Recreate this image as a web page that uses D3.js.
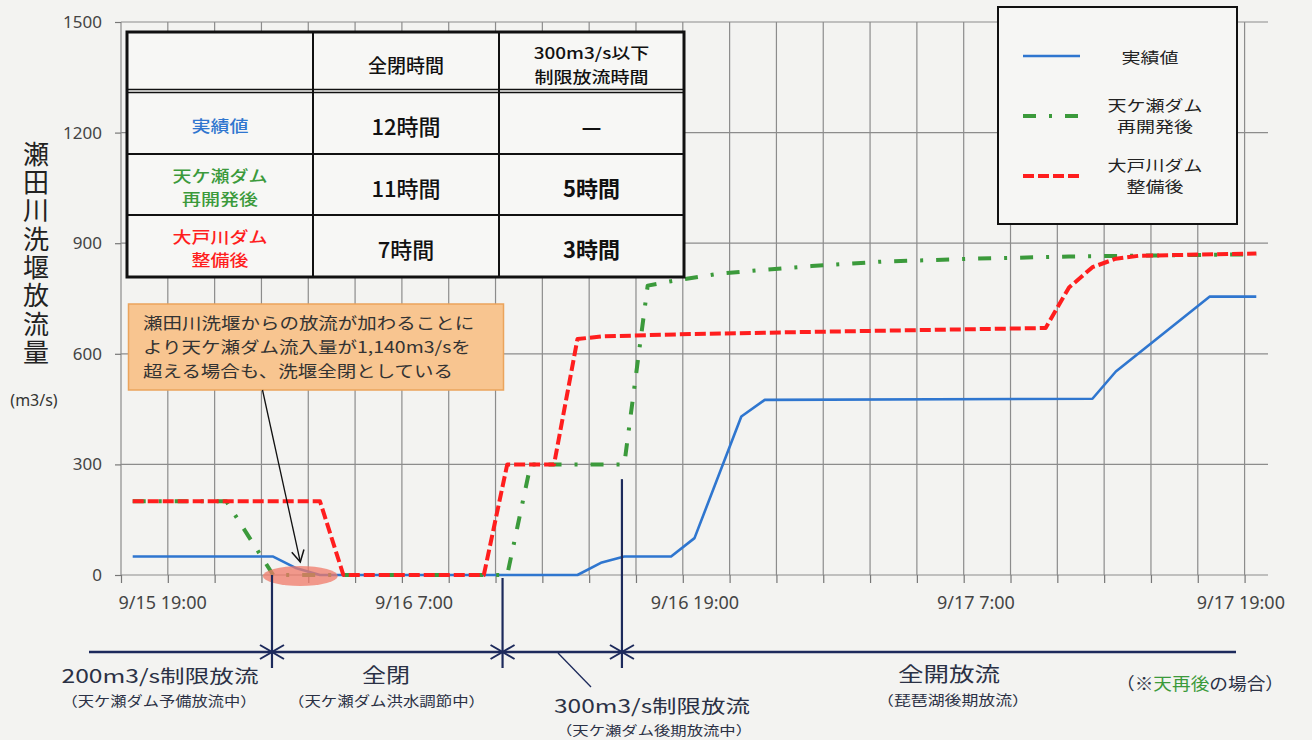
<!DOCTYPE html>
<html><head><meta charset="utf-8">
<script src="https://cdn.jsdelivr.net/npm/d3@7"></script>
<style>
html,body{margin:0;padding:0;background:#f3f3f1;}
svg{display:block;font-family:"Noto Sans CJK JP","Noto Sans",sans-serif;}
</style></head><body>
<svg id="chart" width="1312" height="740"></svg>
<script>
// ---------- data ----------
const xLabels = ["9/15 19:00", "9/16 7:00", "9/16 19:00", "9/17 7:00", "9/17 19:00"];
const xLabelHours = [0, 12, 24, 36, 48];           // hours after 9/15 19:00
const yTicks = [0, 300, 600, 900, 1200, 1500];

const seriesNames = ["実績値", "天ケ瀬ダム\n再開発後", "大戸川ダム\n整備後"];

const actualHours = [0, 6, 7, 8, 19, 20, 21, 23, 24, 26, 27, 41, 42, 46, 48];
const actualFlow  = [50, 50, 18, 0, 0, 33, 50, 50, 100, 430, 475, 478, 552, 755, 755];

const amagaseHours = [0, 4, 6, 16, 17, 21, 22, 23, 25, 27, 29, 32, 36, 40, 48];
const amagaseFlow  = [200, 200, 0, 0, 300, 300, 785, 797, 817, 828, 838, 850, 858, 864, 870];

const daidoHours = [0, 8, 9, 15, 16, 18, 19, 20, 24, 39, 40, 41, 42, 43, 48];
const daidoFlow  = [200, 200, 0, 0, 300, 300, 640, 647, 654, 670, 780, 835, 858, 866, 872];

const tableHeader1 = "全閉時間";
const tableHeader2 = "300m3/s以下\n制限放流時間";
const closedTimes = ["12時間", "11時間", "7時間"];
const limitedTimes = ["—", "5時間", "3時間"];

const phaseBounds = [5.95, 15.8, 20.9];
const phaseLabels = ["200m3/s制限放流", "全閉", "300m3/s制限放流", "全開放流"];
const phaseSubLabels = ["（天ケ瀬ダム予備放流中）", "（天ケ瀬ダム洪水調節中）", "（天ケ瀬ダム後期放流中）", "（琵琶湖後期放流）"];

const noteText = "瀬田川洗堰からの放流が加わることに\nより天ケ瀬ダム流入量が1,140m3/sを\n超える場合も、洗堰全閉としている";
const yTitle = "瀬田川洗堰放流量";
const yUnit = "(m3/s)";

// ---------- styles ----------
const colors = ["#2f76cf", "#3b9a3b", "#ff1e1e"];
const dashes = [null, "13,13,3,13", "11,4"];
const widths = [2.6, 4, 4];
const navy = "#1d2a5c";

const svg = d3.select("#chart");
const x = d3.scaleLinear().domain([-0.5, 48.5]).range([121, 1268]);
const y = d3.scaleLinear().domain([0, 1500]).range([575, 22]);

// ---------- grid ----------
const grid = svg.append("g");
const vgrid = d3.range(-0.5, 48, 2);
grid.selectAll("line.v").data(vgrid).join("line")
  .attr("x1", d => x(d)).attr("x2", d => x(d))
  .attr("y1", y(1500)).attr("y2", y(0))
  .attr("stroke", "#8c8c8c").attr("stroke-width", 1.2);
grid.selectAll("line.h").data(yTicks).join("line")
  .attr("x1", x(-0.5)).attr("x2", x(48.5))
  .attr("y1", d => y(d)).attr("y2", d => y(d))
  .attr("stroke", "#8c8c8c").attr("stroke-width", 1.2);

// x ticks
const xTickAxis = d3.axisBottom(x).tickValues(vgrid).tickFormat("").tickSize(8).tickSizeOuter(0);
const gxt = svg.append("g").attr("transform", `translate(0,${y(0)})`).call(xTickAxis);
gxt.select(".domain").remove();
gxt.selectAll(".tick line").attr("stroke", "#777").attr("stroke-width", 1.2);

// x labels
const xLabelAxis = d3.axisBottom(x).tickValues(xLabelHours)
  .tickFormat((d, i) => xLabels[i]).tickSize(0).tickPadding(0);
const gxl = svg.append("g").attr("transform", `translate(0,${y(0)})`).call(xLabelAxis);
gxl.select(".domain").remove();
gxl.selectAll(".tick text")
  .attr("font-family", "'Noto Sans', sans-serif").attr("font-size", 18).attr("fill", "#444")
  .attr("y", 28).attr("dy", "0.32em")
  .attr("text-anchor", (d, i) => i === 0 ? "start" : "middle")
  .attr("x", (d, i) => i === 0 ? (x(-0.5) - 3 - x(d)) : (i === xLabels.length - 1 ? -16 : 0));

// y axis
const yAxis = d3.axisLeft(y).tickValues(yTicks).tickFormat(d3.format("d"))
  .tickSize(6).tickPadding(13).tickSizeOuter(0);
const gy = svg.append("g").attr("transform", `translate(${x(-0.5)},0)`).call(yAxis);
gy.select(".domain").remove();
gy.selectAll(".tick line").attr("stroke", "#777").attr("stroke-width", 1.2);
gy.selectAll(".tick text").attr("font-family", "'Noto Sans', sans-serif")
  .attr("font-size", 17).attr("fill", "#444");

// y title (vertical writing)
svg.append("text").attr("x", 36).attr("y", 141)
  .style("writing-mode", "vertical-rl").style("letter-spacing", "2.3px")
  .attr("font-size", 26).attr("fill", "#222").text(yTitle);
svg.append("text").attr("x", 34).attr("y", 400).attr("text-anchor", "middle")
  .attr("dominant-baseline", "central").attr("font-family", "'Noto Sans', sans-serif")
  .attr("font-size", 16).attr("fill", "#333").text(yUnit);

// ---------- series ----------
const series = [
  actualHours.map((h, i) => [h, actualFlow[i]]),
  amagaseHours.map((h, i) => [h, amagaseFlow[i]]),
  daidoHours.map((h, i) => [h, daidoFlow[i]])
];
const line = d3.line().x(d => x(d[0])).y(d => y(d[1]));
const gl = svg.append("g");
series.forEach((s, k) => {
  gl.append("path").datum(s).attr("d", line).attr("fill", "none")
    .attr("stroke", colors[k]).attr("stroke-width", widths[k])
    .attr("stroke-dasharray", dashes[k]).attr("stroke-linejoin", "round");
});

// multi-line text helper (single <text>, one tspan per line, optional vertical squash)
function mtext(g, cx, cy, s, size, fill, weight, gap, anchor, sy) {
  sy = sy || 1;
  const ls = s.split("\n");
  const t = g.append("text").attr("text-anchor", anchor || "middle")
    .attr("transform", `translate(${cx},${cy}) scale(1,${sy})`)
    .attr("dominant-baseline", "central").attr("font-size", size).attr("fill", fill)
    .attr("font-weight", weight || 400);
  const y0 = -(ls.length - 1) * gap / 2;
  ls.forEach((l, i) => t.append("tspan").attr("x", 0).attr("y", (y0 + i * gap) / sy).text(l));
  return t;
}

// ---------- table ----------
const tb = svg.append("g");
const tx0 = 127, tx1 = 313, tx2 = 499, tx3 = 684;
const ty0 = 32, tyH1 = 89.5, tyH2 = 92.5, ty1 = 154, ty2 = 215, ty3 = 277;
tb.append("rect").attr("x", tx0).attr("y", ty0).attr("width", tx3 - tx0).attr("height", ty3 - ty0)
  .attr("fill", "#f7f7f5").attr("stroke", "#111").attr("stroke-width", 3);
[[tx1, ty0, tx1, ty3], [tx2, ty0, tx2, ty3]].forEach(l =>
  tb.append("line").attr("x1", l[0]).attr("y1", l[1]).attr("x2", l[2]).attr("y2", l[3])
    .attr("stroke", "#111").attr("stroke-width", 2));
[[tyH1, 1.6], [tyH2, 1.6], [ty1, 2], [ty2, 2]].forEach(l =>
  tb.append("line").attr("x1", tx0).attr("x2", tx3).attr("y1", l[0]).attr("y2", l[0])
    .attr("stroke", "#111").attr("stroke-width", l[1]));
const c1 = (tx0 + tx1) / 2, c2 = (tx1 + tx2) / 2, c3 = (tx2 + tx3) / 2;
mtext(tb, c2, 64, tableHeader1, 19, "#111", 500, 0);
mtext(tb, c3, 64, tableHeader2, 19, "#111", 500, 24, "middle", 0.82);
const rowCenters = [125, 187, 248];
seriesNames.forEach((s, r) => {
  mtext(tb, c1, rowCenters[r] - 0.5, s, 19, colors[r], 500, 23.5, "middle", 0.82);
  mtext(tb, c2, rowCenters[r], closedTimes[r], 22, "#111", 500, 0);
  mtext(tb, c3, rowCenters[r], limitedTimes[r], 22, "#111", 700, 0);
});

// ---------- legend ----------
const lg = svg.append("g");
lg.append("rect").attr("x", 998).attr("y", 7).attr("width", 239).attr("height", 217)
  .attr("fill", "#f6f6f4").attr("stroke", "#111").attr("stroke-width", 2);
const legY = [56, 116, 176];
seriesNames.forEach((s, k) => {
  lg.append("line").attr("x1", 1023).attr("x2", 1080).attr("y1", legY[k]).attr("y2", legY[k])
    .attr("stroke", colors[k]).attr("stroke-width", widths[k]).attr("stroke-dasharray", dashes[k]);
  mtext(lg, k === 0 ? 1150 : 1155, k === 0 ? legY[k] : legY[k] - 1.5, s, 19, "#222", 400, 21.5, "middle", 0.78);
});

// ---------- note box ----------
const nb = svg.append("g");
nb.append("rect").attr("x", 128.5).attr("y", 304).attr("width", 375).attr("height", 86)
  .attr("fill", "#f8c590").attr("stroke", "#eba45c").attr("stroke-width", 1.5);
mtext(nb, 143, 346, noteText, 19.5, "#333", 400, 24, "start", 0.83);

// highlight ellipse + arrow
svg.append("ellipse").attr("cx", x(7.16)).attr("cy", y(0) + 1).attr("rx", 37.5).attr("ry", 10)
  .attr("fill", "#f07a68").attr("opacity", 0.75);
const ax1 = 262.5, ay1 = 390, ax2 = x(7.16), ay2 = y(0) - 13;
svg.append("line").attr("x1", ax1).attr("y1", ay1).attr("x2", ax2).attr("y2", ay2)
  .attr("stroke", "#111").attr("stroke-width", 1.3);
{
  const ang = Math.atan2(ay2 - ay1, ax2 - ax1), L = 13, w = 0.5;
  const p = a => [ax2 - L * Math.cos(a), ay2 - L * Math.sin(a)];
  const a1 = p(ang - w), a2 = p(ang + w);
  svg.append("path").attr("d", `M${a1}L${ax2},${ay2}L${a2}`).attr("fill", "none")
    .attr("stroke", "#111").attr("stroke-width", 1.5);
}

// ---------- phase annotations ----------
const pg = svg.append("g");
const lineY = 652;
const tops = [y(0), y(0) + 3, y(260)];
phaseBounds.forEach((b, i) => {
  pg.append("line").attr("x1", x(b)).attr("x2", x(b)).attr("y1", tops[i]).attr("y2", 668)
    .attr("stroke", navy).attr("stroke-width", 2.2);
  const bx = x(b);
  pg.append("path").attr("d", `M${bx - 12},${lineY - 7}L${bx},${lineY}L${bx - 12},${lineY + 7}`)
    .attr("fill", "none").attr("stroke", navy).attr("stroke-width", 2);
  pg.append("path").attr("d", `M${bx + 12},${lineY - 7}L${bx},${lineY}L${bx + 12},${lineY + 7}`)
    .attr("fill", "none").attr("stroke", navy).attr("stroke-width", 2);
});
pg.append("line").attr("x1", 89).attr("x2", 1236).attr("y1", lineY).attr("y2", lineY)
  .attr("stroke", navy).attr("stroke-width", 2.5);
pg.append("line").attr("x1", 558).attr("y1", 653).attr("x2", 591).attr("y2", 687)
  .attr("stroke", navy).attr("stroke-width", 1.3);

function stext(g, cx, base, s, size, len, sy) {
  return g.append("text").attr("transform", `translate(${cx},${base}) scale(1,${sy})`)
    .attr("x", 0).attr("y", 0).attr("text-anchor", "middle")
    .attr("font-size", size).attr("fill", "#2b3145")
    .attr("textLength", len).attr("lengthAdjust", "spacingAndGlyphs").text(s);
}
const phasePos = [[160, 683, 197, 22], [386, 683, 48, 24], [652, 713, 196, 22], [949, 682, 102, 24]];
const subPos = [[159, 706, 195, 16], [386.5, 706, 197, 16], [654, 735, 196, 15], [953, 705, 152, 16]];
phaseLabels.forEach((s, i) => {
  const p = phasePos[i], q = subPos[i];
  stext(pg, p[0], p[1], s, p[3], p[2], 0.85);
  stext(pg, q[0], q[1], phaseSubLabels[i], q[3], q[2], 0.85);
});
const fn = pg.append("text").attr("transform", "translate(1200,690) scale(1,0.9)")
  .attr("text-anchor", "middle").attr("font-size", 19).attr("fill", "#2b3145")
  .attr("textLength", 168).attr("lengthAdjust", "spacingAndGlyphs");
fn.append("tspan").text("（※");
fn.append("tspan").attr("fill", colors[1]).text("天再後");
fn.append("tspan").text("の場合）");
</script>
</body></html>
